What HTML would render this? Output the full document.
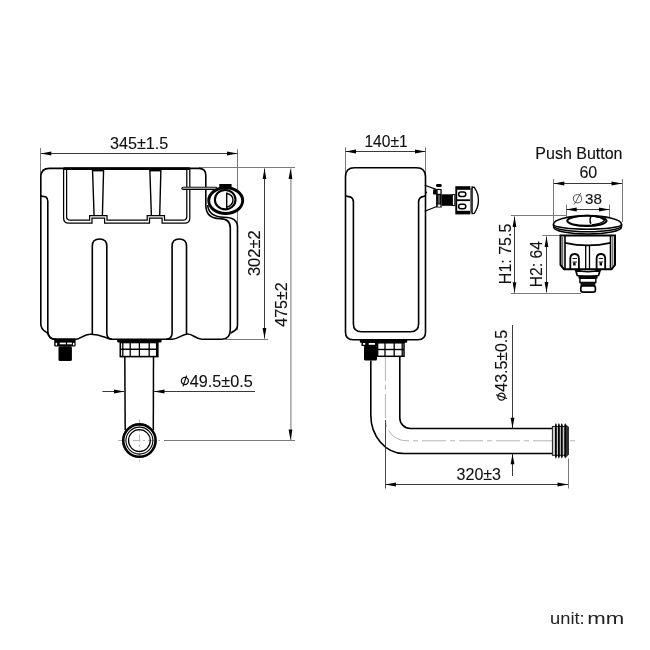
<!DOCTYPE html>
<html><head><meta charset="utf-8"><style>
html,body{margin:0;padding:0;background:#fff;}
svg{display:block;font-family:"Liberation Sans",sans-serif;will-change:transform;}
</style></head><body>
<svg width="650" height="650" viewBox="0 0 650 650">
<rect width="650" height="650" fill="#fff"/>
<line x1="40.5" y1="148" x2="40.5" y2="177" stroke="#7a7a7a" stroke-width="1" />
<line x1="237.5" y1="149.5" x2="237.5" y2="330" stroke="#7a7a7a" stroke-width="1" />
<line x1="40.8" y1="153.5" x2="237.5" y2="153.5" stroke="#3a3a3a" stroke-width="1" />
<polygon points="40.8,153.5 51.3,151.6 51.3,155.4" fill="#000"/>
<polygon points="237.5,153.5 227.0,151.6 227.0,155.4" fill="#000"/>
<text x="139.1" y="148.7" font-size="16.2" text-anchor="middle" fill="#111" stroke="#111" stroke-width="0.12">345±1.5</text>
<line x1="199" y1="167.5" x2="295" y2="167.5" stroke="#7a7a7a" stroke-width="1" />
<path d="M40.8,324 L40.8,177 Q40.8,168.4 49.5,168.4 L199,168.4 Q205.8,168.4 205.8,175.5 L205.8,205 C205.8,213.5 210,218.6 220,218.6 C227.5,218.6 230.3,222 230.3,228 L230.3,329 C230.3,336 228,339.2 222,339.2 L201.8,339.2 C196,339.2 193,334 187.7,334 C182,334 178,339.2 172.3,339.2 L112,339.2 C106,339.2 102,334 90,334.3 C84,334.3 80,339.2 76,339.2 L54.6,339.2 C50.5,339.2 48.8,336.5 47.8,333.5 C46.5,331.5 40.8,330.8 40.8,324" stroke="#000" stroke-width="1.6" fill="none" />
<path d="M40.8,195.6 C42.5,196.8 44.5,196.2 46,197 C47.5,198 47.8,199.5 47.8,201.5 L47.8,331 C47.8,336 50.5,339.2 56,339.2" stroke="#000" stroke-width="1.6" fill="none" />
<path d="M207.6,205 C208.5,213.5 214,217.2 224,217.2 C233,217.2 237.5,220 237.5,227 L237.5,325 C237.5,330 234,331 230.5,333" stroke="#000" stroke-width="1.6" fill="none" />
<path d="M92.3,334.3 L92.3,246 Q92.3,239 99.5,239 Q106.8,239 106.8,246 L106.8,333 Q106.8,339 112,339.2" stroke="#000" stroke-width="1.6" fill="none" />
<path d="M166,339.2 Q172.1,339.2 172.1,333 L172.1,246 Q172.1,239 179.3,239 Q186.5,239 186.5,246 L186.5,334" stroke="#000" stroke-width="1.6" fill="none" />
<path d="M63.6,168.4 L63.6,218 Q63.6,223.2 68.8,223.2 L92,223.2 L92,218.2 L104.6,218.2 L104.6,223.2 L149.5,223.2 L149.5,218.2 L162.1,218.2 L162.1,223.2 L184.6,223.2 Q189.8,223.2 189.8,218 L189.8,168.4" stroke="#000" stroke-width="1.25" fill="none" />
<path d="M66.6,169.5 L66.6,216.5 Q66.6,220.2 70.3,220.2 L89.6,220.2 L89.6,215.7 L107,215.7 L107,220.2 L147.2,220.2 L147.2,215.7 L164.5,215.7 L164.5,220.2 L183.1,220.2 Q186.8,220.2 186.8,216.5 L186.8,169.5" stroke="#000" stroke-width="1.25" fill="none" />
<line x1="63.6" y1="168.6" x2="189.8" y2="168.6" stroke="#000" stroke-width="2.6" />
<path d="M92.5,169 L94.1,215.7 M103.6,169 L102.4,215.7" stroke="#000" stroke-width="1.4" fill="none" />
<path d="M149.8,169 L151.4,215.7 M160.9,169 L159.7,215.7" stroke="#000" stroke-width="1.4" fill="none" />
<rect x="92.5" y="168.4" width="11" height="3" fill="#000"/>
<rect x="149.8" y="168.4" width="11" height="3" fill="#000"/>
<path d="M183,188.3 L216,188.3" stroke="#000" stroke-width="3.2" fill="none" stroke-linecap="round"/>
<path d="M183,188.3 L216,188.3" stroke="#9a9a9a" stroke-width="1.4" fill="none" stroke-linecap="round"/>
<rect x="219.3" y="184" width="12.3" height="4" fill="#000"/>
<ellipse cx="225.7" cy="200.6" rx="17" ry="12.9" fill="white" stroke="#000" stroke-width="2.9"/>
<ellipse cx="225.2" cy="199.7" rx="10.3" ry="9.7" fill="none" stroke="#000" stroke-width="2.1"/>
<path d="M226.7,193.3 L226.7,207.3 Q233,205 233,200 Q233,195 226.7,193.3 Z" stroke="#000" stroke-width="1.4" fill="none" />
<rect x="54.2" y="338.6" width="21.4" height="7.9" rx="1" fill="#000"/>
<rect x="59.7" y="342.6" width="6.2" height="1.7" fill="#fff"/>
<rect x="67.1" y="342.6" width="4.8" height="1.7" fill="#fff"/>
<rect x="55.6" y="342.8" width="1.5" height="2.6" fill="#fff"/>
<rect x="72.9" y="342.8" width="1.5" height="2.6" fill="#fff"/>
<rect x="58.5" y="346.3" width="13.4" height="14.6" rx="1.5" fill="#000"/>
<rect x="117.2" y="339.2" width="44.3" height="3.3" rx="1" fill="#000"/>
<rect x="120.3" y="342.5" width="37.5" height="14.1" fill="white" stroke="#000" stroke-width="1.6"/>
<line x1="120.3" y1="349.2" x2="157.8" y2="349.2" stroke="#000" stroke-width="1.4" />
<line x1="122.8" y1="342.5" x2="122.8" y2="356.6" stroke="#000" stroke-width="1.3" />
<line x1="130.2" y1="342.5" x2="130.2" y2="356.6" stroke="#000" stroke-width="1.3" />
<line x1="139.4" y1="342.5" x2="139.4" y2="356.6" stroke="#000" stroke-width="1.3" />
<line x1="149.2" y1="342.5" x2="149.2" y2="356.6" stroke="#000" stroke-width="1.3" />
<line x1="156.6" y1="342.5" x2="156.6" y2="356.6" stroke="#000" stroke-width="1.3" />
<line x1="124.8" y1="356.6" x2="125.2" y2="430" stroke="#000" stroke-width="1.5" />
<line x1="153.5" y1="356.6" x2="153.3" y2="430" stroke="#000" stroke-width="1.5" />
<line x1="118" y1="440.5" x2="160" y2="440.5" stroke="#b4b4b4" stroke-width="1" stroke-dasharray="7 3 2 3"/>
<line x1="139.5" y1="419.7" x2="139.5" y2="461.5" stroke="#b4b4b4" stroke-width="1" stroke-dasharray="7 3 2 3"/>
<circle cx="139.4" cy="440.6" r="16.2" fill="none" stroke="#000" stroke-width="2.6"/>
<circle cx="139.4" cy="440.6" r="13.5" fill="none" stroke="#000" stroke-width="1.1"/>
<circle cx="139.4" cy="440.6" r="10.9" fill="none" stroke="#000" stroke-width="1.2"/>
<line x1="164" y1="440.5" x2="295" y2="440.5" stroke="#7a7a7a" stroke-width="1" />
<line x1="224" y1="339.5" x2="268" y2="339.5" stroke="#7a7a7a" stroke-width="1" />
<line x1="264.5" y1="168.5" x2="264.5" y2="338.5" stroke="#3a3a3a" stroke-width="1" />
<polygon points="264.5,168.5 262.6,179.0 266.4,179.0" fill="#000"/>
<polygon points="264.5,338.5 262.6,328.0 266.4,328.0" fill="#000"/>
<text x="260.3" y="253.2" font-size="16.5" text-anchor="middle" fill="#111" stroke="#111" stroke-width="0.12" transform="rotate(-90 260.3 253.2)">302±2</text>
<line x1="290.9" y1="168.5" x2="290.9" y2="440" stroke="#8a8a8a" stroke-width="1.2" />
<polygon points="290.5,168.5 288.6,179.0 292.4,179.0" fill="#000"/>
<polygon points="290.5,440 288.6,429.5 292.4,429.5" fill="#000"/>
<text x="287.1" y="304.5" font-size="16" text-anchor="middle" fill="#111" stroke="#111" stroke-width="0.12" transform="rotate(-90 287.1 304.5)">475±2</text>
<line x1="102.4" y1="391.5" x2="124.5" y2="391.5" stroke="#3a3a3a" stroke-width="1" />
<polygon points="124.5,391.5 114.0,389.6 114.0,393.4" fill="#000"/>
<line x1="154" y1="391.5" x2="255" y2="391.5" stroke="#3a3a3a" stroke-width="1" />
<polygon points="154,391.5 164.5,389.6 164.5,393.4" fill="#000"/>
<g transform="translate(181,386.6)"><ellipse cx="3.9" cy="-5.7" rx="3.5" ry="3.6" fill="none" stroke="#111" stroke-width="1.25"/><line x1="2" y1="-0.2" x2="5.6" y2="-11" stroke="#111" stroke-width="1.25"/><text x="8.8" y="0" font-size="16.2" fill="#111" stroke="#111" stroke-width="0.12">49.5±0.5</text></g>
<line x1="345.5" y1="147.3" x2="345.5" y2="175" stroke="#7a7a7a" stroke-width="1" />
<line x1="425.5" y1="147.3" x2="425.5" y2="175" stroke="#7a7a7a" stroke-width="1" />
<line x1="345.5" y1="151.5" x2="425.5" y2="151.5" stroke="#3a3a3a" stroke-width="1" />
<polygon points="345.5,151.5 356.0,149.6 356.0,153.4" fill="#000"/>
<polygon points="425.5,151.5 415.0,149.6 415.0,153.4" fill="#000"/>
<text x="386" y="146.8" font-size="15.6" text-anchor="middle" fill="#111" stroke="#111" stroke-width="0.12">140±1</text>
<path d="M345.5,176.8 Q345.5,167.8 354.5,167.8 L416.5,167.8 Q425.5,167.8 425.5,176.8 L425.5,332.3 Q425.5,339.7 418.1,339.7 L352.9,339.7 Q345.5,339.7 345.5,332.3 Z" stroke="#000" stroke-width="1.6" fill="none" />
<path d="M345.5,195.8 C347.5,197 349.5,196.3 351,197.2 C352.8,198.2 353.4,199.8 353.4,202 L353.4,323.7 Q353.4,331.7 361.4,331.7 L410.6,331.7 Q418.6,331.7 418.6,323.7 L418.6,202 C418.6,199.8 419.2,198.2 421,197.2 C422.5,196.3 423.5,197 425.5,195.8" stroke="#000" stroke-width="1.6" fill="none" />
<path d="M424.8,185.2 L436.1,189.4 M424.8,211.2 L436.1,206.7" stroke="#000" stroke-width="1.2" fill="none" />
<rect x="436.1" y="184" width="5.6" height="2.9" rx="1.2" fill="#000"/>
<rect x="433.1" y="189.4" width="3.5" height="5.1" fill="#000"/>
<rect x="436.1" y="188.9" width="5.6" height="18.6" fill="#000"/>
<rect x="437.7" y="190" width="2.7" height="3.8" fill="#fff"/>
<rect x="437.7" y="204.5" width="2.7" height="2.2" fill="#fff"/>
<rect x="437.9" y="195" width="2.2" height="8.5" fill="#555"/>
<rect x="441.7" y="194.3" width="10.5" height="11.5" fill="#000"/>
<rect x="452.4" y="194.6" width="2.4" height="11" fill="#fff" stroke="#000" stroke-width="1"/>
<rect x="455.3" y="186.2" width="15" height="28.2" fill="#000"/>
<rect x="457.2" y="189.8" width="13.1" height="21" fill="#fff"/>
<rect x="458.6" y="192" width="7.2" height="4.4" rx="2.2" fill="#fff" stroke="#000" stroke-width="1.5"/>
<rect x="458.6" y="204.3" width="7.2" height="4.4" rx="2.2" fill="#fff" stroke="#000" stroke-width="1.5"/>
<line x1="457" y1="200.2" x2="471.5" y2="200.2" stroke="#000" stroke-width="1.8" />
<rect x="470" y="188" width="2.1" height="25" fill="#777"/>
<path d="M472.1,187 L474.3,187.3 Q478.6,193.5 478.4,200.3 Q478.6,207 474.3,213.3 L472.1,213.6 Z" stroke="#000" stroke-width="1.3" fill="white" />
<circle cx="426.1" cy="192.6" r="1" fill="#000"/>
<rect x="359.8" y="339.7" width="47.4" height="3.1" rx="1" fill="#000"/>
<rect x="361.5" y="342" width="17" height="4" fill="#000"/>
<rect x="363" y="343" width="2.2" height="1.8" fill="#fff"/>
<rect x="368.7" y="343" width="6.3" height="1.8" fill="#fff"/>
<rect x="364" y="345.2" width="13" height="15.4" rx="1.5" fill="#000"/>
<rect x="377.6" y="342.8" width="26.4" height="13.5" fill="white" stroke="#000" stroke-width="1.5"/>
<line x1="377.6" y1="349.5" x2="404" y2="349.5" stroke="#000" stroke-width="1.4" />
<line x1="385" y1="342.8" x2="385" y2="356.3" stroke="#000" stroke-width="1.3" />
<line x1="394.2" y1="342.8" x2="394.2" y2="356.3" stroke="#000" stroke-width="1.3" />
<line x1="402.2" y1="342.8" x2="402.2" y2="356.3" stroke="#000" stroke-width="1.3" />
<path d="M370.8,360.6 L370.8,415 A33,38.5 0 0 0 403.8,453.5 L552.3,453.5" stroke="#000" stroke-width="1.6" fill="none" />
<path d="M399.8,356.3 L399.8,418 A10.5,10.5 0 0 0 410.3,428.5 L552.3,428.5" stroke="#000" stroke-width="1.6" fill="none" />
<path d="M385.4,357 L385.4,419.3 A21.5,21.5 0 0 0 406.9,440.8 L575,440.8" stroke="#b4b4b4" stroke-width="1" fill="none" stroke-dasharray="24 4 5 4"/>
<rect x="552.4" y="426.5" width="14" height="28.8" fill="#c8c8c8" stroke="#222" stroke-width="1"/>
<polygon points="555.0,425 555.9,423 556.8,425 556.8,456.5 555.9,458.8 555.0,456.5" fill="#000"/>
<polygon points="558.0,425 558.9,423 559.8,425 559.8,456.5 558.9,458.8 558.0,456.5" fill="#000"/>
<polygon points="560.9,425 561.8,423 562.6999999999999,425 562.6999999999999,456.5 561.8,458.8 560.9,456.5" fill="#000"/>
<polygon points="564.3000000000001,425 565.2,423 566.1,425 566.1,456.5 565.2,458.8 564.3000000000001,456.5" fill="#000"/>
<polygon points="566,424.5 569,427 569,454.5 566,457.5" fill="#333"/>
<line x1="512.5" y1="325" x2="512.5" y2="428.2" stroke="#3a3a3a" stroke-width="1" />
<polygon points="512.5,428.2 510.6,417.7 514.4,417.7" fill="#000"/>
<line x1="512.5" y1="453.8" x2="512.5" y2="476" stroke="#3a3a3a" stroke-width="1" />
<polygon points="512.5,453.8 510.6,464.3 514.4,464.3" fill="#000"/>
<g transform="translate(507.2,400.5) rotate(-90)"><ellipse cx="3.9" cy="-5.7" rx="3.5" ry="3.6" fill="none" stroke="#111" stroke-width="1.25"/><line x1="2" y1="-0.2" x2="5.6" y2="-11" stroke="#111" stroke-width="1.25"/><text x="8.8" y="0" font-size="15.9" fill="#111" stroke="#111" stroke-width="0.12">43.5±0.5</text></g>
<line x1="385.5" y1="420" x2="385.5" y2="488.5" stroke="#333" stroke-width="0.9" />
<line x1="568.5" y1="458.5" x2="568.5" y2="488.5" stroke="#7a7a7a" stroke-width="1" />
<line x1="385.4" y1="484.5" x2="568" y2="484.5" stroke="#3a3a3a" stroke-width="1" />
<polygon points="385.4,484.5 395.9,482.6 395.9,486.4" fill="#000"/>
<polygon points="568,484.5 557.5,482.6 557.5,486.4" fill="#000"/>
<text x="478.8" y="480.3" font-size="16" text-anchor="middle" fill="#111" stroke="#111" stroke-width="0.12">320±3</text>
<text x="578.9" y="159.2" font-size="16" text-anchor="middle" fill="#111" stroke="#111" stroke-width="0.12">Push Button</text>
<text x="588.3" y="177.9" font-size="16" text-anchor="middle" fill="#111" stroke="#111" stroke-width="0.12">60</text>
<line x1="553.5" y1="179" x2="553.5" y2="222" stroke="#7a7a7a" stroke-width="1" />
<line x1="622.5" y1="179" x2="622.5" y2="222" stroke="#7a7a7a" stroke-width="1" />
<line x1="553.8" y1="183.5" x2="622" y2="183.5" stroke="#3a3a3a" stroke-width="1" />
<polygon points="553.8,183.5 564.3,181.6 564.3,185.4" fill="#000"/>
<polygon points="622,183.5 611.5,181.6 611.5,185.4" fill="#000"/>
<text x="593.5" y="203.9" font-size="15.2" text-anchor="middle" fill="#111" stroke="#111" stroke-width="0.12">38</text>
<circle cx="577.5" cy="198.7" r="4.1" fill="none" stroke="#555" stroke-width="1"/>
<line x1="574.3" y1="204.4" x2="580.8" y2="192.9" stroke="#555" stroke-width="1"/>
<line x1="566.5" y1="204.6" x2="566.5" y2="218" stroke="#7a7a7a" stroke-width="1" />
<line x1="609.5" y1="204.6" x2="609.5" y2="218" stroke="#7a7a7a" stroke-width="1" />
<line x1="566.2" y1="209.5" x2="609.5" y2="209.5" stroke="#3a3a3a" stroke-width="1" />
<polygon points="566.2,209.5 576.7,207.6 576.7,211.4" fill="#000"/>
<polygon points="609.5,209.5 599.0,207.6 599.0,211.4" fill="#000"/>
<line x1="510.8" y1="215.5" x2="567" y2="215.5" stroke="#7a7a7a" stroke-width="1" />
<line x1="510.8" y1="293.5" x2="581" y2="293.5" stroke="#7a7a7a" stroke-width="1" />
<line x1="542.3" y1="235.5" x2="567" y2="235.5" stroke="#7a7a7a" stroke-width="1" />
<line x1="514.5" y1="216.5" x2="514.5" y2="292.7" stroke="#3a3a3a" stroke-width="1" />
<polygon points="514.5,216.5 512.6,227.0 516.4,227.0" fill="#000"/>
<polygon points="514.5,292.7 512.6,282.2 516.4,282.2" fill="#000"/>
<line x1="546.5" y1="236.5" x2="546.5" y2="292.4" stroke="#3a3a3a" stroke-width="1" />
<polygon points="546.5,236.5 544.6,247.0 548.4,247.0" fill="#000"/>
<polygon points="546.5,292.4 544.6,281.9 548.4,281.9" fill="#000"/>
<text x="510.9" y="253.9" font-size="16" text-anchor="middle" fill="#111" stroke="#111" stroke-width="0.12" transform="rotate(-90 510.9 253.9)">H1: 75.5</text>
<text x="541.8" y="264.2" font-size="15.7" text-anchor="middle" fill="#111" stroke="#111" stroke-width="0.12" transform="rotate(-90 541.8 264.2)">H2: 64</text>
<path d="M560.5,235.5 L615,235.5 L615,265 L611.5,269.2 L564,269.2 L560.5,265 Z" stroke="#000" stroke-width="2" fill="white" />
<path d="M565,236 L565,268.5 M610.5,236 L610.5,268.5" stroke="#000" stroke-width="1.6" fill="none" />
<path d="M562.7,237 L562.7,266 M612.8,237 L612.8,266" stroke="#444" stroke-width="1" fill="none" />
<path d="M565,242.8 Q587.7,248 610.5,242.8" stroke="#000" stroke-width="1.8" fill="none" />
<path d="M585.7,246 L585.7,269 M589.5,246 L589.5,269" stroke="#000" stroke-width="1.3" fill="none" />
<path d="M570.3,269 L570.3,258.5 Q570.3,254 574.6,254 Q578.9,254 578.9,258.5 L578.9,269" stroke="#000" stroke-width="1.8" fill="none" />
<path d="M596.6,269 L596.6,258.5 Q596.6,254 600.9,254 Q605.2,254 605.2,258.5 L605.2,269" stroke="#000" stroke-width="1.8" fill="none" />
<path d="M572.5,258.5 L577,258.5 M572.5,262 L577,262 M598.8,258.5 L603.2,258.5 M598.8,262 L603.2,262" stroke="#000" stroke-width="0.9" fill="none" />
<rect x="573.2" y="262.5" width="2.4" height="3" fill="#000"/>
<rect x="599.6" y="262.5" width="2.4" height="3" fill="#000"/>
<path d="M575.6,270 Q588,273.5 600.2,270 L598.5,275.5 Q588,277.5 577.3,275.5 Z" stroke="#000" stroke-width="1.7" fill="white" />
<rect x="578.5" y="275.4" width="19" height="3.2" fill="#000"/>
<path d="M579.9,278.3 L595.8,278.3 L595.8,282.5 L579.9,282.5 Z" stroke="#000" stroke-width="1.4" fill="white" />
<rect x="580.5" y="282.5" width="14.8" height="3.6" fill="#111"/>
<rect x="580.8" y="285.8" width="14.6" height="6.4" rx="2.2" fill="white" stroke="#000" stroke-width="1.7"/>
<path d="M553.4,224.3 A34.1,8.7 0 0 1 621.6,224.3 L621.4,227.3 A33.8,6.7 0 0 1 553.8,227.3 Z" stroke="#000" stroke-width="1.6" fill="white" />
<path d="M553.4,224.3 A34.1,5 0 0 0 621.6,224.3" stroke="#000" stroke-width="1.5" fill="none" />
<path d="M553.6,225.8 A33.9,6 0 0 0 621.4,225.8" stroke="#000" stroke-width="1.5" fill="none" />
<ellipse cx="586.9" cy="220.8" rx="19.6" ry="5.1" fill="white" stroke="#000" stroke-width="2.1"/>
<path d="M591.5,215.9 Q589,219 590.8,223.8 M591.5,215.9 Q602,216.5 604.8,220.5" stroke="#000" stroke-width="1.5" fill="none" />
<path d="M592,224.8 Q601,223.8 604.8,220.5" stroke="#000" stroke-width="1.2" fill="none" />
<text x="550.1" y="624.3" font-size="17.2" fill="#222" textLength="34.6" lengthAdjust="spacingAndGlyphs">unit:</text>
<text x="587.3" y="624.3" font-size="17.2" fill="#222" textLength="37" lengthAdjust="spacingAndGlyphs">mm</text>
</svg></body></html>
